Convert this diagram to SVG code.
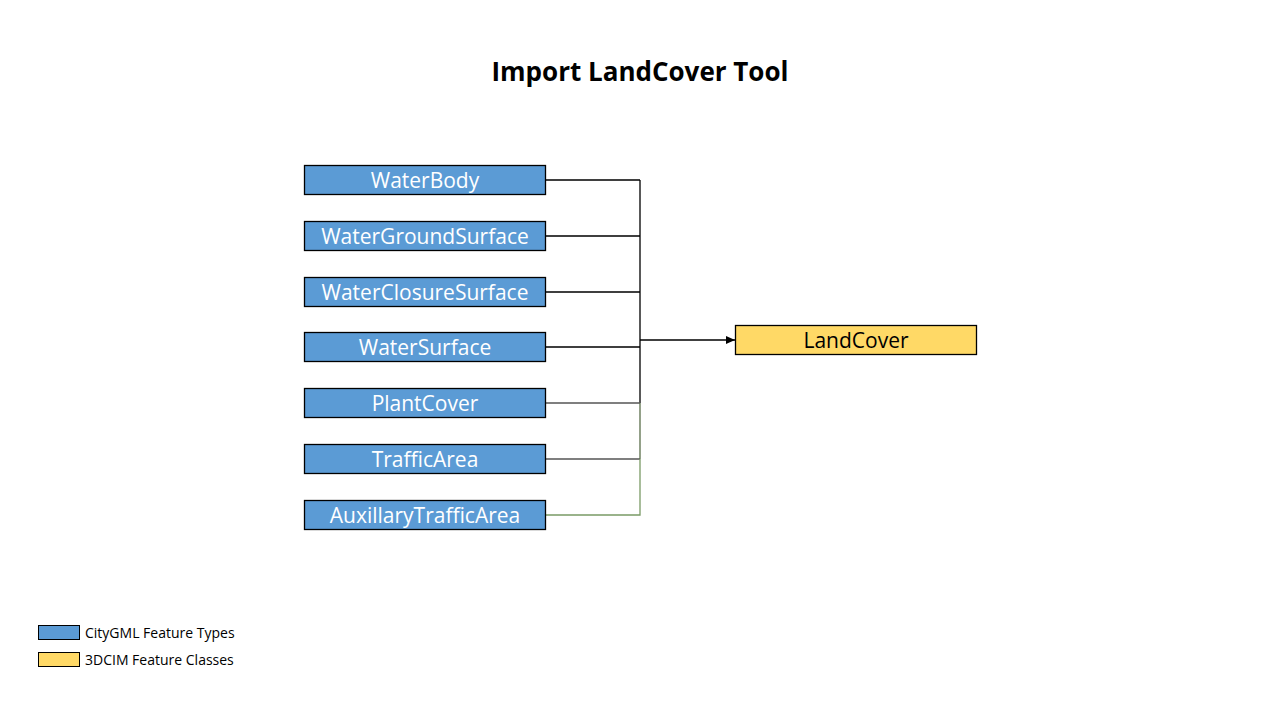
<svg xmlns="http://www.w3.org/2000/svg" width="1280" height="720" viewBox="0 0 1280 720">
<defs>
<style>
.src rect{fill:#5B9BD5;stroke:#000;stroke-width:1.3}
.src text{fill:#fff;font-family:"Open Sans","Noto Sans",sans-serif;font-size:21px;text-anchor:middle}
.dst rect{fill:#FFD966;stroke:#000;stroke-width:1.3}
.dst text{fill:#000;font-family:"Open Sans","Noto Sans",sans-serif;font-size:21px;text-anchor:middle}
.lg{font-family:"Open Sans","Noto Sans",sans-serif;font-size:14px;fill:#000}
.c{fill:none;stroke-width:1.3}
</style>
<marker id="arr" markerWidth="10" markerHeight="8" refX="9" refY="4" orient="auto" markerUnits="userSpaceOnUse">
<path d="M0,0 L9,4 L0,8 z" fill="#000"/>
</marker>
</defs>
<rect width="1280" height="720" fill="#fff"/>
<text x="640" y="81" font-family="'Open Sans','Noto Sans',sans-serif" font-size="26px" font-weight="bold" text-anchor="middle" fill="#000">Import LandCover Tool</text>
<g id="connectors">
<path class="c" stroke="#000" d="M545,180 H640 M545,236 H640 M545,292 H640 M545,347 H640 M640,180 V403"/>
<path class="c" stroke="#555" d="M545,403 H640 M545,459 H640"/>
<path class="c" stroke="#5A6E4A" d="M640,403 V459"/>
<path class="c" stroke="#7A9A66" d="M545,515 H640 V459"/>
<path class="c" stroke="#000" d="M640,340 H735" marker-end="url(#arr)"/>
</g>
<g id="WaterBody" class="src"><rect x="304.5" y="165.5" width="241" height="29"/><text x="425" y="187.5">WaterBody</text></g>
<g id="WaterGroundSurface" class="src"><rect x="304.5" y="221.5" width="241" height="29"/><text x="425" y="243.5">WaterGroundSurface</text></g>
<g id="WaterClosureSurface" class="src"><rect x="304.5" y="277.5" width="241" height="29"/><text x="425" y="299.5">WaterClosureSurface</text></g>
<g id="WaterSurface" class="src"><rect x="304.5" y="332.5" width="241" height="29"/><text x="425" y="354.5">WaterSurface</text></g>
<g id="PlantCover" class="src"><rect x="304.5" y="388.5" width="241" height="29"/><text x="425" y="410.5">PlantCover</text></g>
<g id="TrafficArea" class="src"><rect x="304.5" y="444.5" width="241" height="29"/><text x="425" y="466.5">TrafficArea</text></g>
<g id="AuxillaryTrafficArea" class="src"><rect x="304.5" y="500.5" width="241" height="29"/><text x="425" y="522.5">AuxillaryTrafficArea</text></g>
<g id="LandCover" class="dst"><rect x="735.5" y="325.5" width="241" height="29"/><text x="856" y="347.5">LandCover</text></g>
<g id="legend">
<rect x="38.5" y="625.5" width="41" height="14" fill="#5B9BD5" stroke="#000"/>
<text class="lg" x="85" y="637.5">CityGML Feature Types</text>
<rect x="38.5" y="652.5" width="41" height="14" fill="#FFD966" stroke="#000"/>
<text class="lg" x="85" y="664.5">3DCIM Feature Classes</text>
</g>
</svg>
